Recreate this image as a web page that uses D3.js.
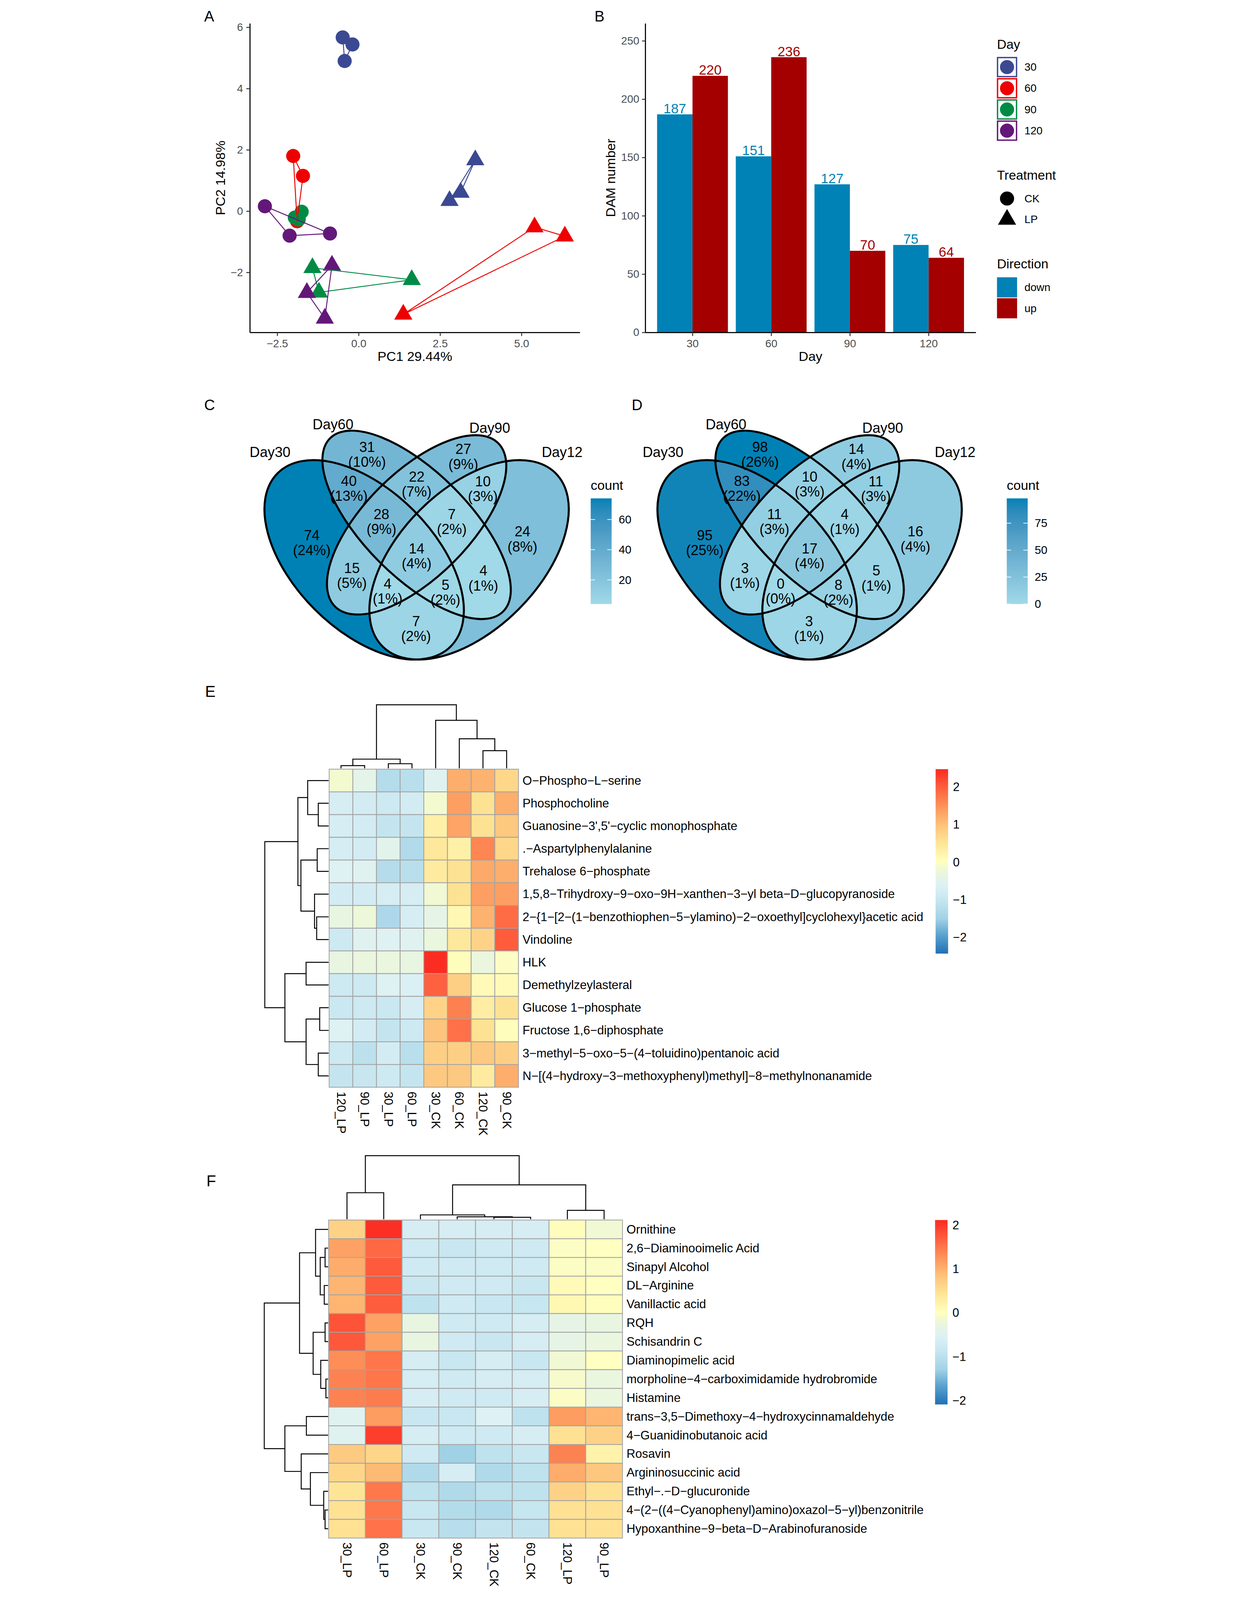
<!DOCTYPE html>
<html>
<head>
<meta charset="utf-8">
<title>DAM figure</title>
<style>
  html, body { margin: 0; padding: 0; background: #fff; overflow: hidden; }
  svg { display: block; width: 100vw; height: 100vh; font-family: "Liberation Sans", Arial, Helvetica, sans-serif; }
</style>
</head>
<body>
<div id="chart"></div>
<script src="https://cdn.jsdelivr.net/npm/d3@7"></script>
<script>
// ---------- data ----------
// A: PCA scores, one entry per sample
var days = ["30", "60", "90", "120"];
var dayColors = ["#3B4992", "#EE0000", "#008B45", "#631879"];
var pcaDay   = ["30","30","30","60","60","60","90","90","90","120","120","120",
                "30","30","30","60","60","60","90","90","90","120","120","120"];
var pcaTreat = ["CK","CK","CK","CK","CK","CK","CK","CK","CK","CK","CK","CK",
                "LP","LP","LP","LP","LP","LP","LP","LP","LP","LP","LP","LP"];
var pc1 = [-0.49,-0.19,-0.43, -2.01,-1.71,-1.89, -1.75,-1.96,-1.84, -2.88,-2.12,-0.88,
           3.58,3.13,2.79, 5.40,6.33,1.37, -1.42,1.63,-1.22, -0.82,-1.59,-1.04];
var pc2 = [5.67,5.44,4.90, 1.80,1.15,-0.33, -0.02,-0.21,-0.27, 0.16,-0.80,-0.73,
           1.67,0.61,0.34, -0.52,-0.82,-3.37, -1.85,-2.24,-2.65, -1.77,-2.66,-3.50];

// B: DAM numbers
var barDays = ["30", "60", "90", "120"];
var downCounts = [187, 151, 127, 75];
var upCounts = [220, 236, 70, 64];
var directions = ["down", "up"];
var dirColors = ["#0082B6", "#A40000"];

// C, D: Venn region counts
var vennSets = ["Day30", "Day60", "Day90", "Day12"];
var vennRegions = ["A","B","C","D","AB","AC","AD","BC","BD","CD","ABC","ABD","ACD","BCD","ABCD"];
var countsC = [74, 31, 27, 24, 40, 15, 7, 22, 4, 10, 28, 5, 4, 7, 14];
var countsD = [95, 98, 14, 16, 83, 3, 3, 10, 5, 11, 11, 8, 0, 4, 17];

// E heatmap
var eRows = ["O\u2212Phospho\u2212L\u2212serine", "Phosphocholine", "Guanosine\u22123',5'\u2212cyclic monophosphate",
  ".\u2212Aspartylphenylalanine", "Trehalose 6\u2212phosphate",
  "1,5,8\u2212Trihydroxy\u22129\u2212oxo\u22129H\u2212xanthen\u22123\u2212yl beta\u2212D\u2212glucopyranoside",
  "2\u2212{1\u2212[2\u2212(1\u2212benzothiophen\u22125\u2212ylamino)\u22122\u2212oxoethyl]cyclohexyl}acetic acid",
  "Vindoline", "HLK", "Demethylzeylasteral", "Glucose 1\u2212phosphate", "Fructose 1,6\u2212diphosphate",
  "3\u2212methyl\u22125\u2212oxo\u22125\u2212(4\u2212toluidino)pentanoic acid",
  "N\u2212[(4\u2212hydroxy\u22123\u2212methoxyphenyl)methyl]\u22128\u2212methylnonanamide"];
var eCols = ["120_LP", "90_LP", "30_LP", "60_LP", "30_CK", "60_CK", "120_CK", "90_CK"];
var eValues = [
  [-0.15,-0.45,-1.25,-1.20,-0.55, 1.20, 1.15, 0.70],
  [-0.75,-0.80,-0.90,-0.80,-0.15, 1.35, 0.55, 1.20],
  [-0.75,-0.80,-1.05,-1.05, 0.30, 1.30, 0.55, 0.90],
  [-0.75,-0.80,-0.50,-1.30, 0.45, 0.30, 1.60, 0.70],
  [-0.60,-0.55,-1.25,-1.20, 0.40, 0.55, 1.25, 1.20],
  [-0.80,-0.80,-0.75,-0.75,-0.20, 0.55, 1.35, 1.35],
  [-0.35,-0.25,-1.35,-0.75,-0.40, 0.15, 1.15, 1.85],
  [-0.90,-0.55,-0.60,-0.55,-0.30, 0.45, 0.75, 2.00],
  [-0.35,-0.30,-0.30,-0.35, 2.45, 0.05,-0.30,-0.05],
  [-0.90,-0.90,-0.60,-0.65, 1.95, 0.80, 0.10, 0.10],
  [-0.95,-0.90,-0.95,-0.75, 0.75, 1.65, 0.35, 0.55],
  [-0.60,-0.80,-1.05,-0.90, 0.95, 1.80, 0.55, 0.05],
  [-0.90,-1.15,-0.80,-1.20, 0.80, 0.80, 0.90, 0.80],
  [-1.05,-1.00,-0.90,-1.05, 0.90, 0.90, 0.40, 1.20]];
// hclust style merges (negative = leaf in display order, positive = earlier merge)
var eColMerge = [[-1,-2],[-3,-4],[1,2],[-7,-8],[-6,4],[-5,5],[3,6]];
var eColHeight = [0.043, 0.073, 0.145, 0.278, 0.466, 0.756, 1];
var eRowMerge = [[-2,-3],[-1,1],[-4,-5],[-7,-8],[-6,4],[3,5],[2,6],[-9,-10],[-11,-12],[-13,-14],[9,10],[8,11],[7,12]];
var eRowHeight = [0.162, 0.328, 0.179, 0.187, 0.221, 0.434, 0.481, 0.353, 0.140, 0.162, 0.353, 0.685, 1];
var eRange = [-2.44, 2.47];

// F heatmap
var fRows = ["Ornithine", "2,6\u2212Diaminooimelic Acid", "Sinapyl Alcohol", "DL\u2212Arginine", "Vanillactic acid",
  "RQH", "Schisandrin C", "Diaminopimelic acid", "morpholine\u22124\u2212carboximidamide hydrobromide", "Histamine",
  "trans\u22123,5\u2212Dimethoxy\u22124\u2212hydroxycinnamaldehyde", "4\u2212Guanidinobutanoic acid", "Rosavin",
  "Argininosuccinic acid", "Ethyl\u2212.\u2212D\u2212glucuronide",
  "4\u2212(2\u2212((4\u2212Cyanophenyl)amino)oxazol\u22125\u2212yl)benzonitrile",
  "Hypoxanthine\u22129\u2212beta\u2212D\u2212Arabinofuranoside"];
var fCols = ["30_LP", "60_LP", "30_CK", "90_CK", "120_CK", "60_CK", "120_LP", "90_LP"];
var fValues = [
  [ 0.65, 2.08,-0.65,-0.65,-0.65,-0.65, 0.04,-0.17],
  [ 1.13, 1.60,-0.74,-0.83,-0.74,-0.74,-0.04, 0.00],
  [ 1.04, 1.72,-0.74,-0.74,-0.74,-0.74,-0.04,-0.04],
  [ 0.96, 1.72,-0.83,-0.74,-0.74,-0.83, 0.09, 0.00],
  [ 0.96, 1.70,-0.96,-0.74,-0.83,-0.87, 0.13, 0.04],
  [ 1.78, 1.13,-0.30,-0.74,-0.74,-0.65,-0.35,-0.30],
  [ 1.74, 1.13,-0.30,-0.74,-0.83,-0.65,-0.35,-0.26],
  [ 1.30, 1.50,-0.65,-0.83,-0.65,-0.83,-0.17, 0.00],
  [ 1.40, 1.50,-0.65,-0.74,-0.65,-0.65,-0.09,-0.26],
  [ 1.40, 1.45,-0.65,-0.74,-0.74,-0.65,-0.04,-0.26],
  [-0.48, 1.17,-0.83,-0.83,-0.52,-0.96, 1.17, 0.96],
  [-0.48, 1.95,-0.65,-0.74,-0.74,-0.65, 0.48, 0.65],
  [ 0.74, 0.61,-0.74,-1.30,-0.96,-0.83, 1.40, 0.22],
  [ 0.61, 0.91,-1.13,-0.65,-1.13,-0.96, 1.04, 0.78],
  [ 0.43, 1.48,-0.96,-1.13,-0.96,-0.96, 0.65, 0.48],
  [ 0.48, 1.48,-0.83,-1.09,-1.13,-0.87, 0.48, 0.48],
  [ 0.48, 1.52,-0.83,-1.04,-0.91,-0.91, 0.48, 0.48]];
var fColMerge = [[-5,-6],[-4,1],[-3,2],[-7,-8],[-1,-2],[3,4],[5,6]];
var fColHeight = [0.030, 0.038, 0.068, 0.140, 0.417, 0.540, 1];
var fRowMerge = [[-2,-3],[-4,-5],[1,2],[-1,3],[-6,-7],[-9,-10],[-8,6],[5,7],[4,8],
                 [-11,-12],[-16,-17],[-15,11],[-14,12],[-13,13],[10,14],[9,15]];
var fRowHeight = [0.047, 0.060, 0.123, 0.196, 0.047, 0.034, 0.115, 0.234, 0.447,
                  0.340, 0.047, 0.068, 0.277, 0.421, 0.677, 1];
var fRange = [-2.09, 2.11];

// ---------- styles / layout ----------
var W = 3213, H = 5891;
var heatStops = ["#2070B4","#5AA2CE","#A2D2E6","#C6E6F0","#DDF1F5","#EBF6DC","#FFFFBF","#FEE596","#FDC17A","#FD9259","#FE5E3E","#FB2B22"];
var heatStopT = [0, 0.1, 0.19, 0.29, 0.37, 0.44, 0.5, 0.6, 0.7, 0.8, 0.9, 1];
var vennLow = "#A0D9E8", vennHigh = "#0081B5";
var vennEllipses = [
  {x: 0.35, y: 0.47, a: 0.35, b: 0.20, rot: 135},
  {x: 0.50, y: 0.57, a: 0.35, b: 0.15, rot: 135},
  {x: 0.50, y: 0.57, a: 0.33, b: 0.15, rot: 45},
  {x: 0.65, y: 0.47, a: 0.35, b: 0.20, rot: 45}];
var vennLabelPos = [[0.081, 0.778], [0.261, 0.857], [0.709, 0.847], [0.916, 0.778]];

// the figure keeps its own 3213 x 5891 coordinate space and is fitted to the window
var svg = d3.select("#chart").append("svg")
  .attr("viewBox", "0 0 " + W + " " + H)
  .attr("preserveAspectRatio", "xMidYMid meet");
svg.append("rect").attr("width", W).attr("height", H).attr("fill", "#fff");
var defs = svg.append("defs");

function tag(t, x, y, size) {
  svg.append("text").attr("x", x).attr("y", y).attr("font-size", size).attr("fill", "#000").text(t);
}
function styleAxis(g) {
  g.select(".domain").attr("stroke", "#000").attr("stroke-width", 4);
  g.selectAll(".tick line").attr("stroke", "#333").attr("stroke-width", 3.5);
  g.selectAll(".tick text").attr("font-size", 40).attr("fill", "#4D4D4D").attr("font-family", null);
}
function expand(e) { var r = (e[1] - e[0]) * 0.05; return [e[0] - r, e[1] + r]; }

// ---------- A ----------
tag("A", 48, 79, 55);
var ax = d3.scaleLinear().domain(expand(d3.extent(pc1))).range([216, 1431]);
var ay = d3.scaleLinear().domain(expand(d3.extent(pc2))).range([1224, 86]);
svg.append("g").attr("transform", "translate(0,1224)")
  .call(d3.axisBottom(ax).tickValues([-2.5, 0, 2.5, 5]).tickFormat(d3.format(".1f")).tickSize(13).tickPadding(13).tickSizeOuter(0))
  .call(styleAxis);
svg.append("g").attr("transform", "translate(216,0)")
  .call(d3.axisLeft(ay).tickValues([-2, 0, 2, 4, 6]).tickFormat(d3.format("d")).tickSize(13).tickPadding(12).tickSizeOuter(0))
  .call(styleAxis);
svg.append("text").attr("x", (216 + 1431) / 2).attr("y", 1329).attr("text-anchor", "middle")
  .attr("font-size", 49).text("PC1 29.44%");
svg.append("text").attr("transform", "translate(124," + (86 + 1224) / 2 + ") rotate(-90)")
  .attr("text-anchor", "middle").attr("font-size", 49).text("PC2 14.98%");

var pcaData = pc1.map(function(v, i) { return {x: v, y: pc2[i], day: pcaDay[i], treat: pcaTreat[i]}; });
var dayColor = d3.scaleOrdinal().domain(days).range(dayColors);
var triSize = 1944;
var pts = svg.append("g");
days.forEach(function(d) {
  pcaData.filter(function(p) { return p.day === d; }).forEach(function(p) {
    if (p.treat === "CK") {
      pts.append("circle").attr("cx", ax(p.x)).attr("cy", ay(p.y)).attr("r", 26).attr("fill", dayColor(d));
    } else {
      pts.append("path").attr("d", d3.symbol(d3.symbolTriangle, triSize)())
        .attr("transform", "translate(" + ax(p.x) + "," + ay(p.y) + ")").attr("fill", dayColor(d));
    }
  });
});
var hull = d3.line().x(function(p) { return ax(p.x); }).y(function(p) { return ay(p.y); }).curve(d3.curveLinearClosed);
["CK", "LP"].forEach(function(t) {
  days.forEach(function(d) {
    var grp = pcaData.filter(function(p) { return p.day === d && p.treat === t; });
    svg.append("path").attr("d", hull(grp)).attr("fill", "none")
      .attr("stroke", dayColor(d)).attr("stroke-width", 3.5);
  });
});

// ---------- B ----------
tag("B", 1485, 79, 55);
var bx = d3.scalePoint().domain(barDays).range([1672, 2889]).padding(0.6);
var by = d3.scaleLinear().domain([0, 265]).range([1224, 86]);
var bw = bx.step() * 0.45;
var series = [downCounts, upCounts];
series.forEach(function(vals, s) {
  var g = svg.append("g");
  g.selectAll("rect").data(vals).join("rect")
    .attr("x", function(v, i) { return bx(barDays[i]) - bw + s * bw; })
    .attr("y", function(v) { return by(v); })
    .attr("width", bw).attr("height", function(v) { return by(0) - by(v); })
    .attr("fill", dirColors[s]);
  g.selectAll("text").data(vals).join("text")
    .attr("x", function(v, i) { return bx(barDays[i]) - bw / 2 + s * bw; })
    .attr("y", function(v) { return by(v) - 4; })
    .attr("text-anchor", "middle").attr("font-size", 50).attr("fill", dirColors[s])
    .text(function(v) { return v; });
});
svg.append("g").attr("transform", "translate(0,1224)")
  .call(d3.axisBottom(bx).tickSize(13).tickPadding(13).tickSizeOuter(0)).call(styleAxis);
svg.append("g").attr("transform", "translate(1672,0)")
  .call(d3.axisLeft(by).tickValues([0, 50, 100, 150, 200, 250]).tickSize(12).tickPadding(10).tickSizeOuter(0))
  .call(styleAxis);
svg.append("text").attr("x", (1672 + 2889) / 2).attr("y", 1329).attr("text-anchor", "middle")
  .attr("font-size", 49).text("Day");
svg.append("text").attr("transform", "translate(1561," + (86 + 1224) / 2 + ") rotate(-90)")
  .attr("text-anchor", "middle").attr("font-size", 49).text("DAM number");

// legends
var lg = svg.append("g");
function legendTitle(t, y) {
  lg.append("text").attr("x", 2967).attr("y", y).attr("dominant-baseline", "central").attr("font-size", 48).text(t);
}
function legendLabel(t, y) {
  lg.append("text").attr("x", 3068).attr("y", y).attr("dominant-baseline", "central").attr("font-size", 40).text(t);
}
legendTitle("Day", 163);
days.forEach(function(d, i) {
  var cy = 247 + i * 78;
  lg.append("rect").attr("x", 2969).attr("y", cy - 35).attr("width", 70).attr("height", 70)
    .attr("fill", "#fff").attr("stroke", dayColor(d)).attr("stroke-width", 5);
  lg.append("circle").attr("cx", 3004).attr("cy", cy).attr("r", 26).attr("fill", dayColor(d));
  legendLabel(d, cy);
});
legendTitle("Treatment", 645);
lg.append("circle").attr("cx", 3004).attr("cy", 731).attr("r", 26).attr("fill", "#000");
lg.append("path").attr("d", d3.symbol(d3.symbolTriangle, triSize)()).attr("transform", "translate(3004,808)").attr("fill", "#000");
legendLabel("CK", 731);
legendLabel("LP", 808);
legendTitle("Direction", 972);
directions.forEach(function(d, i) {
  lg.append("rect").attr("x", 2967).attr("y", 1021 + i * 77).attr("width", 74).attr("height", 74).attr("fill", dirColors[i]);
  legendLabel(d, 1058 + i * 78);
});

// ---------- C, D: Venn ----------
function insideEllipse(e, x, y) {
  var t = e.rot * Math.PI / 180, dx = x - e.x, dy = y - e.y;
  var u = dx * Math.cos(t) + dy * Math.sin(t), v = -dx * Math.sin(t) + dy * Math.cos(t);
  return (u * u) / (e.a * e.a) + (v * v) / (e.b * e.b) <= 1;
}
var letters = "ABCD";
var centroids = {};
(function() {
  var acc = {};
  for (var x = 0; x <= 1; x += 0.003) {
    for (var y = 0; y <= 1; y += 0.003) {
      var key = "";
      vennEllipses.forEach(function(e, i) { if (insideEllipse(e, x, y)) key += letters[i]; });
      if (!key) continue;
      if (!acc[key]) acc[key] = [0, 0, 0];
      acc[key][0] += x; acc[key][1] += y; acc[key][2] += 1;
    }
  }
  Object.keys(acc).forEach(function(k) { centroids[k] = [acc[k][0] / acc[k][2], acc[k][1] / acc[k][2]]; });
})();

function drawVenn(id, counts, cx, barX, barTicks) {
  var k = 1288;
  var vx = d3.scaleLinear().domain([0, 1]).range([cx - k / 2, cx + k / 2]);
  var vy = d3.scaleLinear().domain([0, 1]).range([1586 + 0.839 * k, 1586 - 0.161 * k]);
  var total = d3.sum(counts);
  var color = d3.scaleLinear().domain(d3.extent(counts)).range([vennLow, vennHigh]).interpolate(d3.interpolateLab);
  function ell(sel, e) {
    sel.attr("cx", vx(e.x)).attr("cy", vy(e.y)).attr("rx", e.a * k).attr("ry", e.b * k)
      .attr("transform", "rotate(" + (-e.rot) + " " + vx(e.x) + " " + vy(e.y) + ")");
  }
  vennEllipses.forEach(function(e, i) {
    defs.append("clipPath").attr("id", id + "-clip" + i).append("ellipse").call(ell, e);
  });
  vennRegions.forEach(function(key, r) {
    var m = defs.append("mask").attr("id", id + "-mask" + r).attr("maskUnits", "userSpaceOnUse")
      .attr("x", 0).attr("y", 0).attr("width", W).attr("height", H);
    m.append("rect").attr("width", W).attr("height", H).attr("fill", "#fff");
    vennEllipses.forEach(function(e, i) {
      if (key.indexOf(letters[i]) < 0) m.append("ellipse").call(ell, e).attr("fill", "#000");
    });
    var g = svg.append("g").attr("mask", "url(#" + id + "-mask" + r + ")");
    key.split("").forEach(function(l) {
      g = g.append("g").attr("clip-path", "url(#" + id + "-clip" + letters.indexOf(l) + ")");
    });
    g.append("rect").attr("x", vx(0)).attr("y", vy(1)).attr("width", k).attr("height", k)
      .attr("fill", color(counts[r]));
  });
  vennEllipses.forEach(function(e) {
    svg.append("ellipse").call(ell, e).attr("fill", "none").attr("stroke", "#000").attr("stroke-width", 7.5);
  });
  vennRegions.forEach(function(key, r) {
    var c = centroids[key];
    var t = svg.append("text").attr("text-anchor", "middle").attr("font-size", 52);
    t.append("tspan").attr("x", vx(c[0])).attr("y", vy(c[1]) - 27).attr("dominant-baseline", "central").text(counts[r]);
    t.append("tspan").attr("x", vx(c[0])).attr("y", vy(c[1]) + 28).attr("dominant-baseline", "central")
      .text("(" + Math.round(100 * counts[r] / total) + "%)");
  });
  vennSets.forEach(function(s, i) {
    svg.append("text").attr("x", vx(vennLabelPos[i][0])).attr("y", vy(vennLabelPos[i][1]))
      .attr("text-anchor", "middle").attr("dominant-baseline", "central").attr("font-size", 52).text(s);
  });
  // colour bar
  var ext = d3.extent(counts);
  var cy = d3.scaleLinear().domain(ext).range([2224, 1835]);
  var grad = defs.append("linearGradient").attr("id", id + "-grad").attr("x1", 0).attr("y1", 1).attr("x2", 0).attr("y2", 0);
  d3.range(0, 1.0001, 0.05).forEach(function(t) {
    grad.append("stop").attr("offset", t).attr("stop-color", color(ext[0] + t * (ext[1] - ext[0])));
  });
  svg.append("text").attr("x", barX).attr("y", 1787).attr("dominant-baseline", "central").attr("font-size", 49).text("count");
  svg.append("rect").attr("x", barX).attr("y", 1835).attr("width", 77).attr("height", 389).attr("fill", "url(#" + id + "-grad)");
  barTicks.forEach(function(v) {
    svg.append("line").attr("x1", barX).attr("x2", barX + 16).attr("y1", cy(v)).attr("y2", cy(v)).attr("stroke", "#fff").attr("stroke-width", 2.5);
    svg.append("line").attr("x1", barX + 61).attr("x2", barX + 77).attr("y1", cy(v)).attr("y2", cy(v)).attr("stroke", "#fff").attr("stroke-width", 2.5);
    svg.append("text").attr("x", barX + 103).attr("y", cy(v)).attr("dominant-baseline", "central").attr("font-size", 42).text(v);
  });
}
tag("C", 48, 1510, 55);
drawVenn("vc", countsC, 830, 1471, [20, 40, 60]);
tag("D", 1622, 1510, 55);
drawVenn("vd", countsD, 2277, 3003, [0, 25, 50, 75]);

// ---------- E, F: heatmaps ----------
function dendroSegments(merge, height, leafPos) {
  var nodes = [], segs = [];
  function get(m) { return m < 0 ? {pos: leafPos(-m - 1), h: 0} : nodes[m - 1]; }
  merge.forEach(function(m, i) {
    var a = get(m[0]), b = get(m[1]), h = height[i];
    nodes.push({pos: (a.pos + b.pos) / 2, h: h});
    segs.push([[a.pos, a.h], [a.pos, h], [b.pos, h], [b.pos, b.h]]);
  });
  return segs;
}
function drawHeatmap(o) {
  var x = d3.scaleBand().domain(d3.range(o.cols.length)).range([o.left, o.right]);
  var y = d3.scaleBand().domain(d3.range(o.rows.length)).range([o.top, o.bottom]);
  var color = d3.scaleLinear().domain(heatStopT.map(function(t) { return o.range[0] + t * (o.range[1] - o.range[0]); }))
    .range(heatStops);
  var cells = [];
  o.values.forEach(function(row, i) { row.forEach(function(v, j) { cells.push({i: i, j: j, v: v}); }); });
  svg.append("g").selectAll("rect").data(cells).join("rect")
    .attr("x", function(d) { return x(d.j); }).attr("y", function(d) { return y(d.i); })
    .attr("width", x.bandwidth()).attr("height", y.bandwidth())
    .attr("fill", function(d) { return color(d.v); })
    .attr("stroke", "#A3A3A3").attr("stroke-width", 3);
  svg.append("g").selectAll("text").data(o.rows).join("text")
    .attr("x", o.right + 15).attr("y", function(d, i) { return y(i) + y.bandwidth() / 2; })
    .attr("dominant-baseline", "central").attr("font-size", 44.8).text(function(d) { return d; });
  svg.append("g").selectAll("text").data(o.cols).join("text")
    .attr("transform", function(d, j) { return "translate(" + (x(j) + x.bandwidth() / 2) + "," + (o.bottom + 16) + ") rotate(90)"; })
    .attr("dominant-baseline", "central").attr("font-size", 45).text(function(d) { return d; });

  var ch = d3.scaleLinear().domain([0, 1]).range([o.top - 3, o.colTop]);
  var colLine = d3.line().x(function(p) { return p[0]; }).y(function(p) { return ch(p[1]); });
  dendroSegments(o.colMerge, o.colHeight, function(j) { return x(j) + x.bandwidth() / 2; }).forEach(function(s) {
    svg.append("path").attr("d", colLine(s)).attr("fill", "none").attr("stroke", "#000").attr("stroke-width", 3.5);
  });
  var rh = d3.scaleLinear().domain([0, 1]).range([o.left - 2, o.rowLeft]);
  var rowLine = d3.line().x(function(p) { return rh(p[1]); }).y(function(p) { return p[0]; });
  dendroSegments(o.rowMerge, o.rowHeight, function(i) { return y(i) + y.bandwidth() / 2; }).forEach(function(s) {
    svg.append("path").attr("d", rowLine(s)).attr("fill", "none").attr("stroke", "#000").attr("stroke-width", 3.5);
  });

  // legend
  var ly = d3.scaleLinear().domain(o.range).range([o.legBottom, o.legTop]);
  var grad = defs.append("linearGradient").attr("id", o.id + "-grad").attr("x1", 0).attr("y1", 1).attr("x2", 0).attr("y2", 0);
  heatStopT.forEach(function(t, i) { grad.append("stop").attr("offset", t).attr("stop-color", heatStops[i]); });
  svg.append("rect").attr("x", o.legX).attr("y", o.legTop).attr("width", 46).attr("height", o.legBottom - o.legTop)
    .attr("fill", "url(#" + o.id + "-grad)");
  [-2, -1, 0, 1, 2].forEach(function(v) {
    svg.append("text").attr("x", o.legX + 64).attr("y", ly(v)).attr("dominant-baseline", "central")
      .attr("font-size", 44).text(d3.format("d")(v));
  });
}
tag("E", 51, 2566, 58);
drawHeatmap({id: "he", rows: eRows, cols: eCols, values: eValues, range: eRange,
  left: 508, right: 1205, top: 2832, bottom: 4003, colTop: 2595, rowLeft: 271,
  colMerge: eColMerge, colHeight: eColHeight, rowMerge: eRowMerge, rowHeight: eRowHeight,
  legX: 2741, legTop: 2832, legBottom: 3511});
tag("F", 56, 4368, 58);
drawHeatmap({id: "hf", rows: fRows, cols: fCols, values: fValues, range: fRange,
  left: 506, right: 1588, top: 4492, bottom: 5663, colTop: 4255, rowLeft: 269,
  colMerge: fColMerge, colHeight: fColHeight, rowMerge: fRowMerge, rowHeight: fRowHeight,
  legX: 2739, legTop: 4492, legBottom: 5171});
</script>
</body>
</html>
